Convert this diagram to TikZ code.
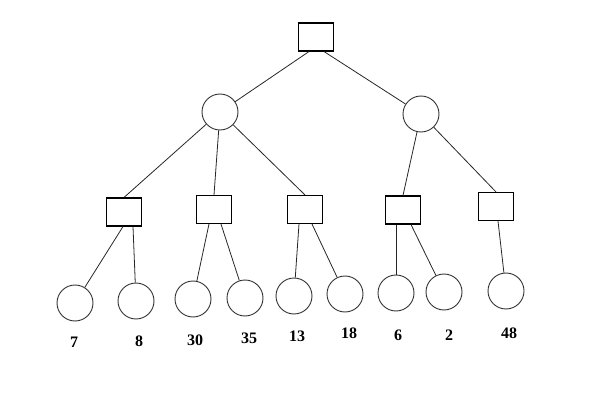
\documentclass[tikz,border=0pt]{standalone}
\usepackage{fontspec}
\setmainfont{Liberation Serif}
\usetikzlibrary{positioning}

\begin{document}
\begin{tikzpicture}[
  x=1pt, y=-1pt,
  decision/.style = {rectangle, draw, line width=1.1pt, minimum width=35pt,
                     minimum height=28pt, inner sep=0pt},
  chance/.style   = {circle, draw=black!80, line width=0.9pt, minimum size=36pt,
                     inner sep=0pt},
  payoff/.style   = {font=\fontsize{16}{18}\selectfont\bfseries, inner sep=0pt},
  link/.style     = {line width=0.8pt, black!85},
]
\useasboundingbox (0,0) rectangle (598,412);
% root and first level
\node[decision] (root) at (316,37) {};
\node[chance] (c1) at (220,112) {};
\node[chance] (c2) at (421,114) {};
% second level
\node[decision] (b1) at (124,212) {};
\node[decision] (b2) at (214,209.5) {};
\node[decision] (b3) at (305,209.5) {};
\node[decision] (b4) at (403,210) {};
\node[decision] (b5) at (496,206.5) {};
% leaves
\node[chance] (l1) at (75,303) {};
\node[chance] (l2) at (136,301) {};
\node[chance] (l3) at (193,299) {};
\node[chance] (l4) at (245,298) {};
\node[chance] (l5) at (294,296) {};
\node[chance] (l6) at (345,294) {};
\node[chance] (l7) at (396,293) {};
\node[chance] (l8) at (444,292) {};
\node[chance] (l9) at (506,291) {};
% payoffs
\node[payoff] (p1) at (74,342) {7};
\node[payoff] (p2) at (139,341) {8};
\node[payoff] (p3) at (195,340) {30};
\node[payoff] (p4) at (249,338) {35};
\node[payoff] (p5) at (297,336) {13};
\node[payoff] (p6) at (349,333) {18};
\node[payoff] (p7) at (398,335) {6};
\node[payoff] (p8) at (449,335) {2};
\node[payoff] (p9) at (509,333) {48};
% connectors
\draw[link] ([xshift=-7pt]root.south) -- (c1);
\draw[link] ([xshift=8pt]root.south) -- (c2);
\draw[link] (c1) -- (b1.north);
\draw[link] (c1) -- (b2.north);
\draw[link] (c1) -- (b3.north);
\draw[link] (c2) -- (b4.north);
\draw[link] (c2) -- (b5.north);
\draw[link] ([xshift=-1pt]b1.south) -- (l1);
\draw[link] ([xshift=9pt]b1.south) -- (l2);
\draw[link] ([xshift=-5pt]b2.south) -- (l3);
\draw[link] ([xshift=7pt]b2.south) -- (l4);
\draw[link] ([xshift=-6pt]b3.south) -- (l5);
\draw[link] ([xshift=7pt]b3.south) -- (l6);
\draw[link] ([xshift=-7pt]b4.south) -- (l7);
\draw[link] ([xshift=8pt]b4.south) -- (l8);
\draw[link] ([xshift=2pt]b5.south) -- (l9);
\end{tikzpicture}
\end{document}
